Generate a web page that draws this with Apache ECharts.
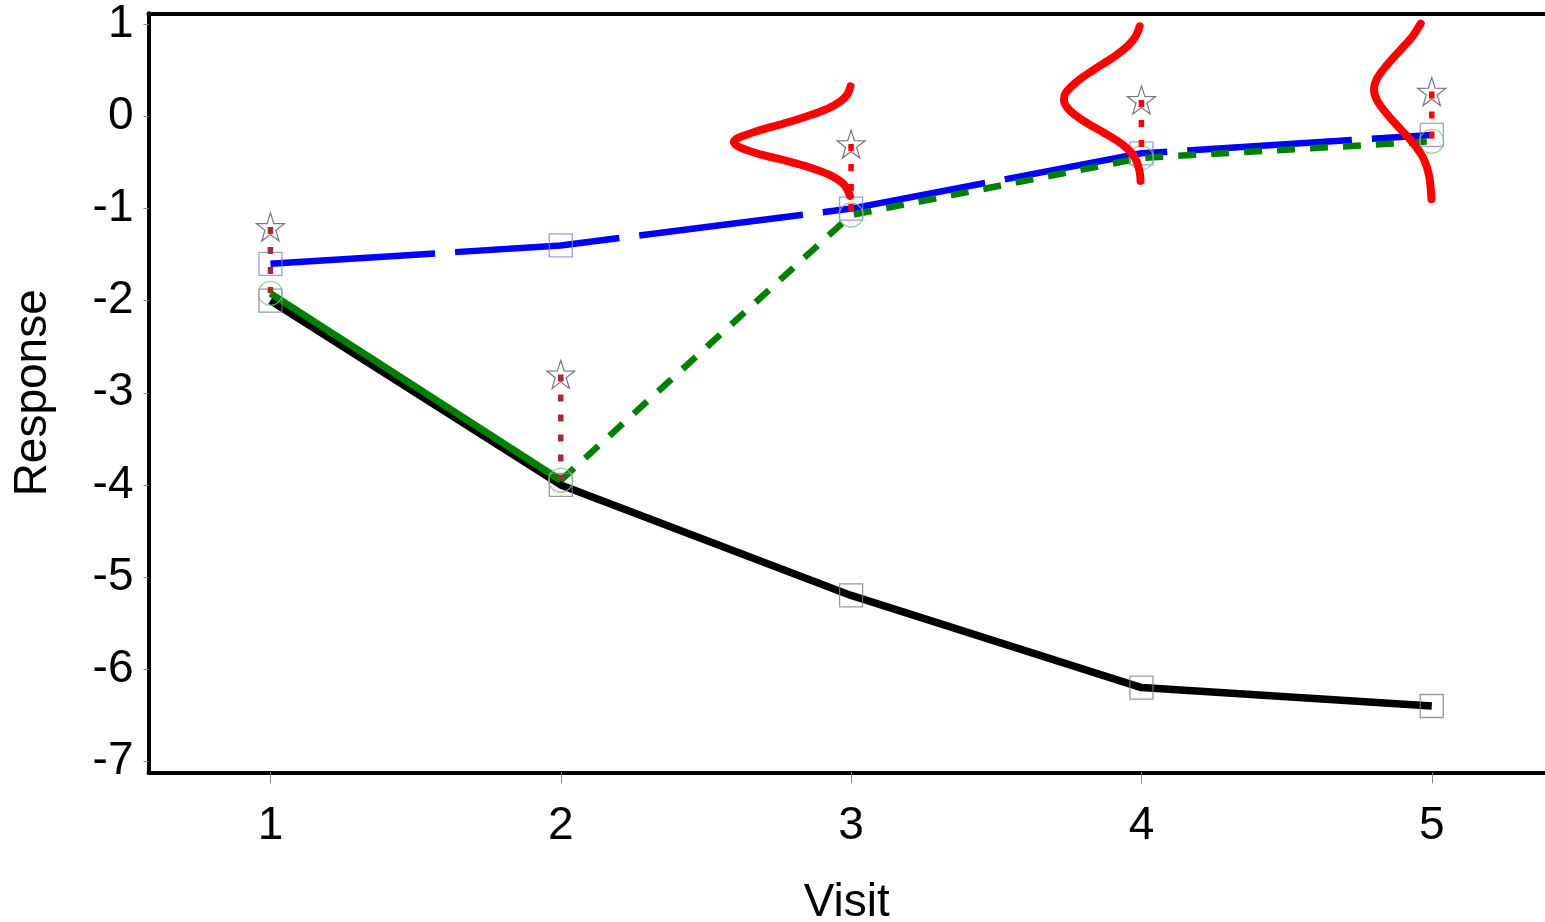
<!DOCTYPE html>
<html><head><meta charset="utf-8">
<script src="https://cdn.jsdelivr.net/npm/echarts@6/dist/echarts.min.js"></script>
<style>html,body{margin:0;padding:0;background:#fff}#c{width:1545px;height:922px}</style>
</head><body><div id="c"></div>
<script>
// ---- data ----
const visits = [1, 2, 3, 4, 5];
const xTicks = [1, 2, 3, 4, 5];
const yTicks = [-7, -6, -5, -4, -3, -2, -1, 0, 1];
const observedResp = [-2.0, -4.0, -5.2, -6.2, -6.4];      // black solid, squares
const blueResp     = [-1.6, -1.4, -1.0, -0.4, -0.2];      // blue long dash, squares
const greenResp    = [-1.92, -3.95, -1.07, -0.45, -0.27]; // green, circles
const starResp     = [-1.2, -2.8, -0.3, 0.18, 0.27];      // stars
// red density curves (x = visit position, y = response)
const density3 = [[2.998,0.328],[2.987,0.238],[2.964,0.166],[2.918,0.083],[2.849,0.003],[2.768,-0.076],[2.677,-0.159],[2.613,-0.231],[2.596,-0.278],[2.619,-0.339],[2.688,-0.412],[2.780,-0.484],[2.860,-0.556],[2.929,-0.639],[2.975,-0.737],[2.996,-0.863]];
const density4 = [[3.994,0.978],[3.980,0.870],[3.952,0.762],[3.900,0.636],[3.837,0.509],[3.779,0.382],[3.739,0.257],[3.733,0.184],[3.750,0.076],[3.802,-0.051],[3.871,-0.177],[3.934,-0.303],[3.974,-0.430],[3.992,-0.574],[3.997,-0.701]];
const density5 = [[4.962,1.008],[4.934,0.870],[4.893,0.726],[4.847,0.563],[4.813,0.419],[4.801,0.293],[4.813,0.166],[4.847,0.022],[4.893,-0.141],[4.939,-0.303],[4.973,-0.466],[4.991,-0.647],[4.999,-0.899]];

// ---- chart ----
const FONT = "'Liberation Sans', Arial, sans-serif";
function starPath() {
  let p = [];
  for (let i = 0; i < 10; i++) {
    const r = i % 2 === 0 ? 50 : 19.5;
    const a = -Math.PI / 2 + i * Math.PI / 5;
    p.push((i ? 'L' : 'M') + (50 + r * Math.cos(a)).toFixed(2) + ' ' + (50 + r * Math.sin(a)).toFixed(2));
  }
  return 'path://' + p.join(' ') + ' Z';
}
const pairs = (ys) => visits.map((v, i) => [v, ys[i]]);

const series = [];
series.push({type:'line', data: pairs(observedResp), symbol:'none', z:2,
  lineStyle:{color:'#000', width:7.5}, silent:true});
series.push({type:'line', data: pairs(greenResp).slice(0, 2), symbol:'none', z:3,
  lineStyle:{color:'#008000', width:7}, silent:true});
series.push({type:'line', data: pairs(blueResp), symbol:'none', z:3,
  lineStyle:{color:'#0000ff', width:6.5, type:[165, 20]}, silent:true});
series.push({type:'line', data: pairs(greenResp).slice(1), symbol:'none', z:3,
  lineStyle:{color:'#008000', width:6.5, type:[18, 15]}, silent:true});
series.push({type:'scatter', data: pairs(observedResp), symbol:'rect', symbolSize:23, z:4,
  itemStyle:{color:'rgba(0,0,0,0)', borderColor:'#808080', borderWidth:1.3}, silent:true});
series.push({type:'scatter', data: pairs(blueResp), symbol:'rect', symbolSize:23, z:4,
  itemStyle:{color:'rgba(0,0,0,0)', borderColor:'#8080ff', borderWidth:1.3}, silent:true});
series.push({type:'scatter', data: pairs(greenResp), symbol:'circle', symbolSize:24, z:4,
  itemStyle:{color:'rgba(0,0,0,0)', borderColor:'#80c080', borderWidth:1.3}, silent:true});
[density3, density4, density5].forEach(d => {
  series.push({type:'line', data:d, symbol:'none', smooth:0.35, z:5,
    lineStyle:{color:'#ff0000', width:8, cap:'round', join:'round'}, silent:true});
});
visits.forEach((v, i) => {
  series.push({type:'line', data:[[v, starResp[i]], [v, greenResp[i]]], symbol:'none', z:6,
    lineStyle:{color: i < 2 ? '#a82c2c' : '#ff0000', width:5.5, type:[7, 13]}, silent:true});
});
series.push({type:'scatter', data: pairs(starResp), symbol: starPath(), symbolSize:28, z:7,
  itemStyle:{color:'rgba(0,0,0,0)', borderColor:'#555', borderWidth:1.2}, silent:true});

const option = {
  animation:false,
  backgroundColor:'#fff',
  grid:{left:148.5, top:13.3, bottom:149.7, right:0, show:false, containLabel:false, outerBoundsMode:'none'},
  xAxis:[{type:'value', min:0.58, max:5.39, position:'bottom',
    name:'Visit', nameLocation:'middle', nameGap:108,
    nameTextStyle:{fontFamily:FONT, fontSize:46, color:'#000'},
    splitLine:{show:false},
    axisLine:{show:true, onZero:false, lineStyle:{color:'#000', width:4}},
    axisTick:{show:true, length:11, customValues:xTicks, lineStyle:{color:'#888', width:1}},
    axisLabel:{customValues:xTicks, margin:31, fontFamily:FONT, fontSize:46, color:'#000'}},
   {type:'value', min:0.58, max:5.39, position:'top',
    splitLine:{show:false}, axisTick:{show:false}, axisLabel:{show:false},
    axisLine:{show:true, onZero:false, lineStyle:{color:'#000', width:4}}}],
  yAxis:{type:'value', min:-7.12, max:1.12,
    name:'Response', nameLocation:'middle', nameGap:92, nameRotate:90,
    nameTextStyle:{fontFamily:FONT, fontSize:46, color:'#000'},
    splitLine:{show:false},
    axisLine:{show:true, onZero:false, lineStyle:{color:'#000', width:4}},
    axisTick:{show:true, length:5, customValues:yTicks, lineStyle:{color:'#888', width:1}},
    axisLabel:{customValues:yTicks, margin:15, fontFamily:FONT, fontSize:46, color:'#000'}},
  series: series
};
const chart = echarts.init(document.getElementById('c'), null, {renderer:'canvas'});
chart.setOption(option);
</script>
</body></html>
